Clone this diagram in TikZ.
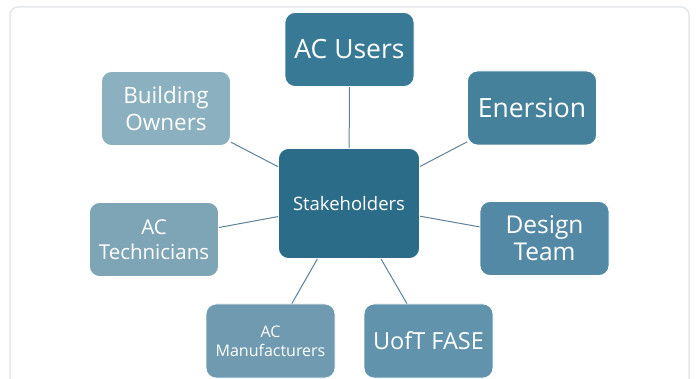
\documentclass[tikz,border=0pt]{standalone}
\usepackage{fontspec}
\setmainfont{Open Sans}
\usepackage{tikz}

\definecolor{hubblue}{HTML}{2B6D89}
\definecolor{usersblue}{HTML}{387A95}
\definecolor{enerblue}{HTML}{46819B}
\definecolor{designblue}{HTML}{5389A4}
\definecolor{uoftblue}{HTML}{6193AC}
\definecolor{manublue}{HTML}{6F9AB0}
\definecolor{techblue}{HTML}{7EA5B6}
\definecolor{ownerblue}{HTML}{8BB0BF}
\definecolor{linkgray}{HTML}{5F8198}
\definecolor{framegray}{HTML}{E3E6EA}

\tikzset{
  box/.style={rectangle, rounded corners=10pt, draw=white, line width=0.8pt,
    text=white, align=center, minimum width=129pt, minimum height=74pt, inner sep=2pt},
  link/.style={draw=linkgray, line width=1pt}
}

\begin{document}
\begin{tikzpicture}[x=1pt,y=-1pt]
    % Fix the page size
    \useasboundingbox (0,0) rectangle (696,379);

    % Outer frame (runs off the bottom)
    \draw[framegray, line width=1.5pt, rounded corners=8pt] (10,7) rectangle (689,400);

    % Centre node
    \node[box, fill=hubblue, minimum width=141pt, minimum height=110pt,
          font=\fontsize{18.5}{22}\selectfont] (hub) at (349,203.5) {Stakeholders};

    % Stakeholder boxes around it
    \node[box, fill=usersblue, font=\fontsize{26.5}{30}\selectfont] (users) at (349.5,49.5) {AC Users};
    \node[box, fill=enerblue, font=\fontsize{26.5}{30}\selectfont] (enersion) at (532,108) {Enersion};
    \node[box, fill=designblue, font=\fontsize{24.5}{27}\selectfont] (design) at (544.5,238.5) {Design\\Team};
    \node[box, fill=uoftblue, font=\fontsize{23.5}{27}\selectfont] (uoft) at (428.5,341) {UofT FASE};
    \node[box, fill=manublue, font=\fontsize{16}{19}\selectfont] (manu) at (270.5,341) {AC\\Manufacturers};
    \node[box, fill=techblue, font=\fontsize{20.5}{25}\selectfont] (tech) at (154,239.5) {AC\\Technicians};
    \node[box, fill=ownerblue, font=\fontsize{22.5}{27}\selectfont] (owners) at (166,108.5) {Building\\Owners};

    % Connectors
    \draw[link] (hub) -- (users);
    \draw[link] (hub) -- (enersion);
    \draw[link] (hub) -- (design);
    \draw[link] (hub) -- (uoft);
    \draw[link] (hub) -- (manu);
    \draw[link] (hub) -- (tech);
    \draw[link] (hub) -- (owners);

\end{tikzpicture}
\end{document}
